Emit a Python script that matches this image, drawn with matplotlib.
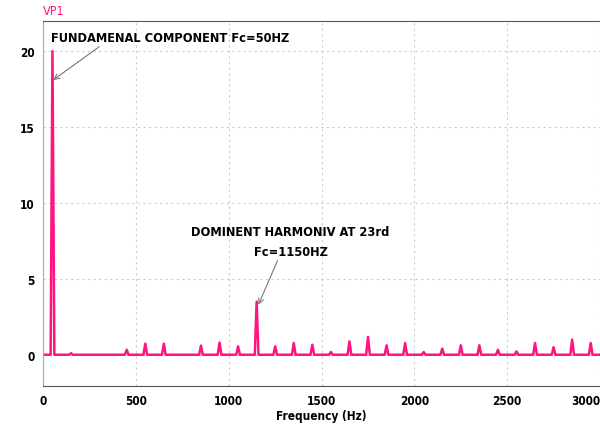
import numpy as np
import matplotlib.pyplot as plt

plt.rcParams['font.family'] = ['DejaVu Sans']
plt.rcParams['font.stretch'] = 'condensed'

# --- Spectrum data (harmonics of the 50 Hz fundamental) ---
harmonic_freqs = [50, 150, 450, 550, 650, 850, 950, 1050, 1150, 1250, 1350,
                  1450, 1550, 1650, 1750, 1850, 1950, 2050, 2150, 2250,
                  2350, 2450, 2550, 2650, 2750, 2850, 2950]
harmonic_amps = [20.0, 0.1, 0.33, 0.73, 0.73, 0.6, 0.8, 0.55, 3.5, 0.55, 0.77,
                 0.66, 0.18, 0.88, 1.17, 0.62, 0.77, 0.18, 0.4, 0.62,
                 0.62, 0.33, 0.22, 0.77, 0.5, 1.0, 0.77]
bin_width = 10  # Hz, half base of each spike
f_max = 3000

x_ticks = [0, 500, 1000, 1500, 2000, 2500, 3000]
y_ticks = [0, 5, 10, 15, 20]

# build the line: flat baseline with a triangular spike at each harmonic
freq = [0]
mag = [0]
for f, a in zip(harmonic_freqs, harmonic_amps):
    freq += [f - bin_width, f, f + bin_width]
    mag += [0, a, 0]
freq.append(f_max + 20)
mag.append(0)

pink = '#ff1480'

fig = plt.figure(figsize=(6.0, 4.27), dpi=100)
ax = fig.add_axes([0.072, 0.094, 0.928, 0.855])
ax.plot(freq, mag, color=pink, lw=1.8)

ax.set_xlim(0, f_max)
ax.set_ylim(-2.05, 22)
ax.set_xticks(x_ticks)
ax.set_yticks(y_ticks)
ax.tick_params(length=0, labelsize=8.5, pad=6)
for lab in ax.get_xticklabels() + ax.get_yticklabels():
    lab.set_fontweight('bold')
ax.get_xticklabels()[-1].set_horizontalalignment('right')
ax.grid(True, ls=(0, (2, 3)), color='#cccccc', lw=0.8)

for side in ['top', 'left', 'bottom']:
    ax.spines[side].set_color('#555555')
ax.spines['left'].set_color('#aaaaaa')
ax.spines['right'].set_visible(False)

ax.set_xlabel('Frequency (Hz)', fontsize=8.5, fontweight='bold', labelpad=1)
fig.text(0.072, 0.957, 'VP1', color=pink, fontsize=9, ha='left', va='bottom')

arrow = dict(arrowstyle='->', color='#777777', lw=0.8, shrinkA=0, shrinkB=0)
ax.annotate('FUNDAMENAL COMPONENT Fc=50HZ', xy=(54, 18.1), xytext=(40, 20.9),
            fontsize=9.2, fontweight='bold', ha='left', va='center',
            arrowprops=dict(arrow, relpos=(0.22, 0.0)))
ax.annotate('DOMINENT HARMONIV AT 23rd\nFc=1150HZ', xy=(1160, 3.3), xytext=(1333, 7.46),
            fontsize=9.2, fontweight='bold', ha='center', va='center',
            linespacing=1.65, arrowprops=dict(arrow, relpos=(0.44, 0.0)))

fig.savefig('out.png', dpi=100)
